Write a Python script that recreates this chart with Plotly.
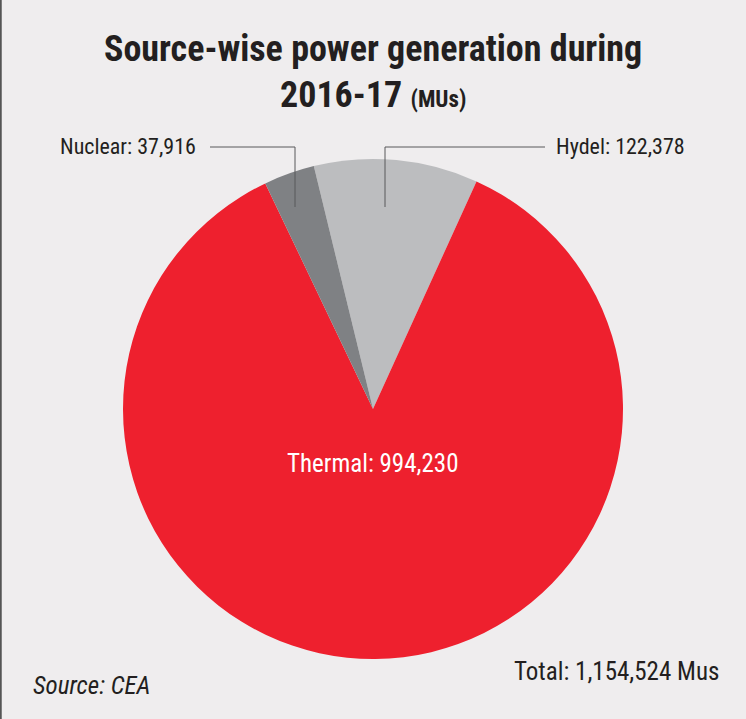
import plotly.graph_objects as go

# Source-wise power generation 2016-17 (MUs), source: CEA
sources = ["Hydel", "Thermal", "Nuclear"]
generation = [122378, 994230, 37916]
colors = ["#BCBDBF", "#EE202E", "#7F8184"]

total = sum(generation)
W, H = 746, 719
BG = "#EFEDEE"
NARROW = "Liberation Sans Narrow, Roboto Condensed, Arial Narrow, sans-serif"
INK = "#231F20"


def px(x):
    return x / W


def py(y):
    return 1 - y / H


fig = go.Figure(
    go.Pie(
        labels=sources,
        values=generation,
        sort=False,
        direction="clockwise",
        rotation=-13.7,
        marker=dict(colors=colors, line=dict(width=0)),
        textinfo="none",
        hoverinfo="label+value",
        domain=dict(x=[px(123), px(623)], y=[py(659), py(159)]),
        showlegend=False,
    )
)

label_font = dict(family=NARROW, size=22, color=INK)
big_font = dict(family=NARROW, size=25, color=INK)

annotations = [
    dict(
        text="<b>Source-wise power generation during</b>",
        x=0.5, y=py(49), font=dict(family=NARROW, size=36, color=INK),
    ),
    dict(
        text="<b>2016-17 <span style='font-size:23px'>(MUs)</span></b>",
        x=0.5, y=py(95), font=dict(family=NARROW, size=36, color=INK),
    ),
    dict(
        text=f"{sources[2]}: {generation[2]:,}",
        x=px(198), y=py(146), xanchor="right", font=label_font,
    ),
    dict(
        text=f"{sources[0]}: {generation[0]:,}",
        x=px(554), y=py(146), xanchor="left", font=label_font,
    ),
    dict(
        text=f"{sources[1]}: {generation[1]:,}",
        x=0.5, y=py(463), font=dict(family=NARROW, size=25, color="white"),
    ),
    dict(
        text=f"Total: {total:,} Mus",
        x=px(721), y=py(671), xanchor="right", font=big_font,
    ),
    dict(
        text="<i>Source: CEA</i>",
        x=px(31), y=py(685), xanchor="left", font=big_font,
    ),
]
for a in annotations:
    a.update(xref="paper", yref="paper", showarrow=False, yanchor="middle")
    a.setdefault("xanchor", "center")

line = dict(color="#58595B", width=1)
shapes = [
    # leader lines
    dict(type="path", path=f"M {px(210)} {py(147)} L {px(295)} {py(147)} L {px(295)} {py(207)}", line=line),
    dict(type="path", path=f"M {px(545)} {py(147)} L {px(385)} {py(147)} L {px(385)} {py(207)}", line=line),
    # left border
    dict(type="line", x0=0.001, x1=0.001, y0=0, y1=1, line=dict(color="#555555", width=2)),
]
for s in shapes:
    s.update(xref="paper", yref="paper")

fig.update_layout(
    width=W,
    height=H,
    margin=dict(l=0, r=0, t=0, b=0),
    paper_bgcolor=BG,
    plot_bgcolor=BG,
    annotations=annotations,
    shapes=shapes,
)

fig.write_html(
    "out.html",
    config={"displayModeBar": False},
    post_script="document.body.style.margin='0';document.body.style.overflow='hidden';",
)
